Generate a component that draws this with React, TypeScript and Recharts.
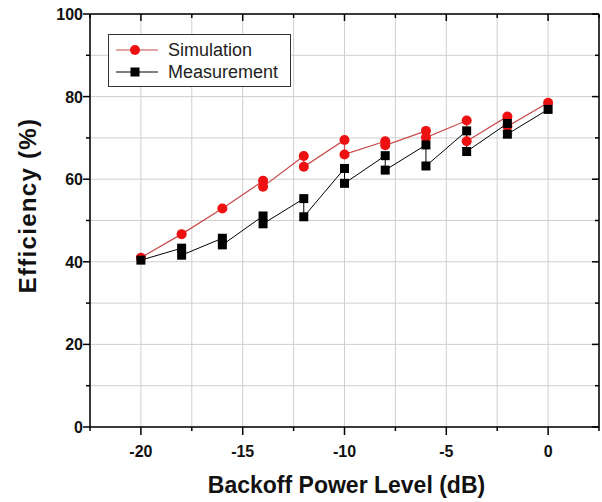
import { ComposedChart, Line, XAxis, YAxis, CartesianGrid } from "recharts"

// backoff level (dB) and efficiency (%) — two readings at most power levels
const simX = [-20, -18, -16, -14, -14, -12, -12, -10, -10, -8, -8, -6, -6, -4, -4, -2, -2, 0]
const simY = [41, 46.7, 52.9, 59.6, 58.2, 65.6, 63, 69.5, 66, 69.2, 68.2, 71.7, 70.1, 74.2, 69.2, 75.2, 72.8, 78.5]

const measX = [-20, -18, -18, -16, -16, -14, -14, -12, -12, -10, -10, -8, -8, -6, -6, -4, -4, -2, -2, 0]
const measY = [40.4, 43.3, 41.6, 45.7, 44.1, 51.1, 49.2, 55.3, 50.9, 62.6, 59, 65.7, 62.2, 68.3, 63.2, 71.7, 66.7, 73.5, 70.9, 76.9]

const xTicks = [-22.5, -20, -17.5, -15, -12.5, -10, -7.5, -5, -2.5, 0, 2.5]
const yTicks = [0, 10, 20, 30, 40, 50, 60, 70, 80, 90, 100]

const simData = simX.map((x, i) => ({ x, y: simY[i] }))
const measData = measX.map((x, i) => ({ x, y: measY[i] }))

const FONT = "'Liberation Sans', Arial, sans-serif"
const SIM_LINE = "#c94a4a"
const SIM_DOT = "#ee1111"

const BottomTick = ({ x, y, payload }: any) => {
  const major = payload.value % 5 === 0
  return (
    <g>
      <line x1={x} x2={x} y1={y} y2={y + (major ? 8 : 4)} stroke="#000" strokeWidth={1.5} />
      {major && (
        <text x={x} y={y + 30} textAnchor="middle" fontFamily={FONT} fontWeight="bold" fontSize={16} fill="#111">
          {payload.value}
        </text>
      )}
    </g>
  )
}

const TopTick = ({ x, y, payload }: any) => {
  const major = payload.value % 5 === 0
  return <line x1={x} x2={x} y1={y} y2={y + (major ? 7 : 4)} stroke="#000" strokeWidth={1.5} />
}

const LeftTick = ({ x, y, payload }: any) => {
  const major = payload.value % 20 === 0
  return (
    <g>
      <line x1={x - (major ? 7 : 4)} x2={x} y1={y} y2={y} stroke="#000" strokeWidth={1.5} />
      {major && (
        <text x={x - 7} y={y + 6} textAnchor="end" fontFamily={FONT} fontWeight="bold" fontSize={16} fill="#111">
          {payload.value}
        </text>
      )}
    </g>
  )
}

const RightTick = ({ x, y, payload }: any) => {
  const major = payload.value % 20 === 0
  return <line x1={x - (major ? 7 : 4)} x2={x} y1={y} y2={y} stroke="#000" strokeWidth={1.5} />
}

const Circle = ({ cx, cy }: any) => <circle cx={cx} cy={cy} r={5} fill={SIM_DOT} stroke="none" />
const Square = ({ cx, cy }: any) => <rect x={cx - 4.5} y={cy - 4.5} width={9} height={9} fill="#000" />

const YTitle = ({ viewBox }: any) => {
  const cx = viewBox.x + 27
  const cy = viewBox.y + viewBox.height / 2 - 15
  return (
    <text
      x={cx}
      y={cy}
      transform={`rotate(-90 ${cx} ${cy})`}
      textAnchor="middle"
      dominantBaseline="central"
      fontFamily={FONT}
      fontWeight="bold"
      fontSize={24}
      letterSpacing={1.3}
      fill="#111"
    >
      Efficiency (%)
    </text>
  )
}

const XTitle = ({ viewBox }: any) => (
  <text
    x={viewBox.x + viewBox.width / 2 + 2}
    y={viewBox.y + 66}
    textAnchor="middle"
    fontFamily={FONT}
    fontWeight="bold"
    fontSize={23}
    fill="#111"
  >
    Backoff Power Level (dB)
  </text>
)

const LegendBox = () => {
  const rows = [
    { name: "Simulation", color: SIM_LINE, marker: <circle cx={21} cy={7} r={5} fill={SIM_DOT} /> },
    { name: "Measurement", color: "#000", marker: <rect x={16.5} y={2.5} width={9} height={9} fill="#000" /> },
  ]
  return (
    <div
      style={{
        position: "absolute",
        left: 108,
        top: 34,
        width: 183,
        height: 53,
        boxSizing: "border-box",
        border: "1px solid #333",
        background: "#fff",
        fontFamily: FONT,
        fontSize: 18,
        color: "#222",
        paddingTop: 4,
      }}
    >
      {rows.map((r) => (
        <div key={r.name} style={{ display: "flex", alignItems: "center", height: 22 }}>
          <svg width={54} height={14} style={{ marginLeft: 5 }}>
            <line x1={2} x2={44} y1={7} y2={7} stroke={r.color} strokeWidth={1.2} />
            {r.marker}
          </svg>
          <span style={{ lineHeight: "22px" }}>{r.name}</span>
        </div>
      ))}
    </div>
  )
}

export default function App() {
  return (
    <div style={{ position: "fixed", left: 0, top: 0, width: 602, height: 502, background: "#fff" }}>
      <ComposedChart width={602} height={502} margin={{ top: 0, right: 0, left: 0, bottom: 0 }}>
        <CartesianGrid stroke="#cfcfcf" strokeWidth={1} />
        <XAxis
          dataKey="x"
          type="number"
          domain={[-22.5, 2.5]}
          ticks={xTicks}
          interval={0}
          height={75}
          tickSize={0}
          tickMargin={0}
          tick={<BottomTick />}
          axisLine={{ stroke: "#000", strokeWidth: 1.5 }}
          label={<XTitle />}
        />
        <XAxis
          xAxisId="top"
          dataKey="x"
          orientation="top"
          type="number"
          domain={[-22.5, 2.5]}
          ticks={xTicks}
          interval={0}
          height={14}
          tickSize={0}
          tickMargin={0}
          tick={<TopTick />}
          axisLine={{ stroke: "#000", strokeWidth: 1.5 }}
        />
        <YAxis
          type="number"
          domain={[0, 100]}
          ticks={yTicks}
          interval={0}
          width={90}
          tickSize={0}
          tickMargin={0}
          tick={<LeftTick />}
          axisLine={{ stroke: "#000", strokeWidth: 1.5 }}
          label={<YTitle />}
        />
        <YAxis
          yAxisId="right"
          orientation="right"
          type="number"
          domain={[0, 100]}
          ticks={yTicks}
          interval={0}
          width={3}
          tickSize={0}
          tickMargin={0}
          tick={<RightTick />}
          axisLine={{ stroke: "#000", strokeWidth: 1.5 }}
        />
        <Line
          data={simData}
          dataKey="y"
          name="Simulation"
          stroke={SIM_LINE}
          strokeWidth={1.2}
          dot={<Circle />}
          activeDot={false}
          isAnimationActive={false}
        />
        <Line
          data={measData}
          dataKey="y"
          name="Measurement"
          stroke="#000"
          strokeWidth={1}
          dot={<Square />}
          activeDot={false}
          isAnimationActive={false}
        />
        <Line
          data={measData}
          dataKey="y"
          xAxisId="top"
          yAxisId="right"
          stroke="none"
          dot={false}
          activeDot={false}
          legendType="none"
          isAnimationActive={false}
        />
      </ComposedChart>
      <LegendBox />
    </div>
  )
}
